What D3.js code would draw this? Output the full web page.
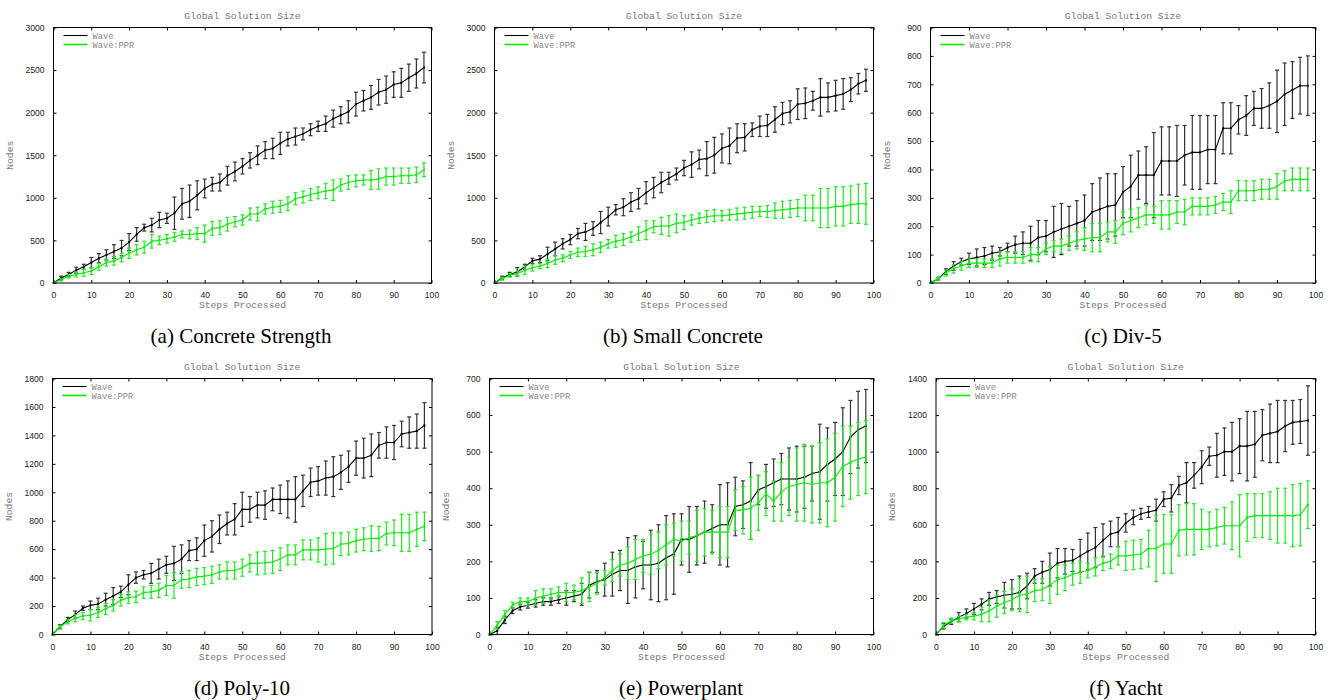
<!DOCTYPE html>
<html><head><meta charset="utf-8">
<script src="https://cdn.jsdelivr.net/npm/d3@7"></script>
<style>
body{margin:0;background:#fff;}
svg{display:block;}
</style></head>
<body>
<svg id="chart" width="1329" height="700"></svg>
<script>
// ---------- DATA ----------
const steps = [0,2,4,6,8,10,12,14,16,18,20,22,24,26,28,30,32,34,36,38,40,42,44,46,48,50,52,54,56,58,60,62,64,66,68,70,72,74,76,78,80,82,84,86,88,90,92,94,96,98];
const xTicks = [0,10,20,30,40,50,60,70,80,90,100];
const seriesNames = ["Wave","Wave:PPR"];
const chartTitle = "Global Solution Size";
const xLabel = "Steps Processed";
const yLabel = "Nodes";
const captions = ["(a) Concrete Strength","(b) Small Concrete","(c) Div-5","(d) Poly-10","(e) Powerplant","(f) Yacht"];

const yTicksA = [0,500,1000,1500,2000,2500,3000];
const yTicksB = [0,500,1000,1500,2000,2500,3000];
const yTicksC = [0,100,200,300,400,500,600,700,800,900];
const yTicksD = [0,200,400,600,800,1000,1200,1400,1600,1800];
const yTicksE = [0,100,200,300,400,500,600,700];
const yTicksF = [0,200,400,600,800,1000,1200,1400];

// (a) Concrete Strength
const waveA    = [0,60,100,150,190,240,290,330,370,410,480,570,650,680,740,760,820,930,960,1030,1110,1160,1180,1260,1310,1370,1440,1500,1560,1580,1640,1690,1720,1750,1800,1840,1870,1930,1970,2010,2100,2140,2180,2240,2270,2330,2350,2410,2460,2530];
const waveAErr = [0,20,25,35,30,60,55,60,80,90,100,80,40,80,90,60,190,180,190,170,110,80,100,110,110,90,90,110,100,120,130,80,100,70,70,60,90,100,100,130,140,120,140,150,160,150,170,160,170,180];
const pprA     = [0,40,80,100,120,140,190,240,260,300,350,390,420,490,500,520,540,570,570,580,580,640,650,690,720,740,810,810,870,890,900,930,990,1010,1040,1060,1080,1090,1150,1180,1200,1210,1210,1220,1250,1250,1260,1260,1270,1330];
const pprAErr  = [0,15,20,30,40,40,40,40,50,50,60,60,70,80,50,50,50,40,50,70,100,80,80,80,60,60,70,80,60,70,70,80,70,70,70,70,90,120,70,80,70,60,110,120,100,100,90,90,90,80];

// (b) Small Concrete
const waveB    = [0,60,100,130,190,260,280,340,400,460,510,580,600,640,710,780,860,890,950,990,1060,1120,1180,1230,1280,1350,1390,1450,1460,1500,1580,1610,1700,1710,1800,1840,1850,1920,1990,2010,2100,2110,2140,2180,2180,2200,2220,2270,2340,2380];
const waveBErr = [0,20,25,50,30,30,40,80,80,60,60,60,100,80,130,110,60,100,110,120,130,120,120,70,70,90,150,110,200,210,170,210,170,160,80,120,130,150,130,130,180,180,110,220,170,180,180,140,120,130];
const pprB     = [0,50,90,110,150,180,200,230,270,290,330,360,370,390,420,460,490,510,540,580,620,660,670,670,700,710,740,760,780,790,790,800,810,820,830,840,840,850,860,870,880,880,880,880,880,900,900,920,930,930];
const pprBErr  = [0,15,20,30,50,40,30,50,50,40,40,50,60,70,60,50,70,70,60,80,110,70,100,120,110,80,60,60,70,70,60,60,70,70,70,60,70,90,100,100,100,150,150,230,230,230,230,220,230,240];

// (c) Div-5
const waveC    = [0,15,40,60,75,85,90,95,105,110,125,135,140,140,160,165,180,190,200,210,220,250,260,270,275,320,340,380,380,380,430,430,430,450,460,460,470,470,545,545,575,590,615,615,625,640,665,680,695,695];
const waveCErr = [0,5,10,15,12,20,30,30,25,15,15,30,40,60,60,55,90,90,70,80,90,100,110,115,110,90,110,85,100,150,120,120,125,105,130,130,120,120,90,90,50,70,60,70,80,110,110,100,100,105];
const pprC     = [0,15,35,50,60,70,70,70,70,85,90,90,90,100,100,120,130,130,140,150,155,160,160,180,180,210,220,230,240,240,240,240,250,250,270,270,270,275,285,285,325,325,325,330,330,340,360,365,365,365];
const pprCErr  = [0,5,10,15,15,15,15,15,15,25,20,20,20,25,25,20,20,25,25,30,40,50,50,35,40,40,40,35,35,30,50,50,40,45,30,30,30,30,30,40,35,35,35,35,35,45,35,40,40,40];

// (d) Poly-10
const waveD    = [0,55,105,140,185,205,215,245,270,300,350,400,420,430,460,490,500,530,590,600,660,690,740,780,810,880,880,910,910,950,950,950,950,1010,1070,1080,1100,1110,1140,1180,1240,1240,1260,1330,1350,1350,1410,1420,1430,1470];
const waveDErr = [0,15,15,25,15,30,40,45,60,40,70,40,30,70,70,60,120,100,70,80,110,110,100,80,110,120,90,90,100,80,100,130,160,110,100,100,120,140,120,110,120,140,150,90,110,120,90,110,120,160];
const pprD     = [0,55,90,115,130,135,155,180,205,240,260,265,295,300,310,345,345,385,390,405,410,420,440,450,450,470,500,500,505,510,530,560,560,595,595,595,600,605,635,640,660,670,675,675,710,715,715,715,740,760];
const pprDErr  = [0,10,15,25,25,40,35,40,40,40,40,40,40,45,50,70,90,60,60,60,60,60,50,60,60,60,60,80,80,80,80,70,70,70,70,85,110,110,80,80,80,80,90,85,80,90,130,130,120,100];

// (e) Powerplant
const waveE    = [0,10,40,65,75,80,85,90,90,95,100,105,110,135,145,150,165,175,175,185,190,190,195,210,220,260,260,270,280,290,300,300,350,355,365,395,405,415,425,425,425,430,440,445,465,480,500,540,560,570];
const waveEErr = [0,10,10,8,8,8,10,10,10,10,20,15,30,35,30,45,60,55,90,85,65,95,105,115,110,70,90,80,85,65,110,115,80,65,105,40,60,65,70,85,90,85,75,130,100,100,120,100,105,100];
const pprE     = [0,25,55,80,90,90,100,105,110,115,115,115,120,130,140,155,175,190,195,205,215,220,230,245,260,255,265,270,280,280,280,280,340,340,345,360,385,365,390,405,410,415,410,415,415,430,460,470,480,485];
const pprEErr  = [0,10,10,8,10,10,20,20,15,15,25,20,35,40,30,20,30,30,45,55,45,55,50,55,45,55,45,70,65,60,70,70,55,65,85,75,60,55,80,80,100,105,105,110,120,120,110,100,100,100];

// (f) Yacht
const waveF    = [0,45,70,95,115,140,165,195,205,215,220,230,265,320,340,355,390,400,405,430,455,475,515,550,560,610,640,660,670,680,740,745,815,830,870,915,975,980,1000,1000,1030,1030,1040,1090,1100,1110,1140,1160,1165,1170];
const waveFErr = [0,15,15,25,25,30,30,35,35,70,80,90,70,40,60,90,80,70,60,90,100,110,90,70,80,50,40,30,30,60,40,75,50,110,70,90,50,120,130,160,150,190,180,140,160,170,140,120,120,190];
const pprF     = [0,50,75,85,95,100,110,130,155,175,190,215,220,240,245,270,300,310,330,340,350,370,390,400,430,430,435,440,470,470,495,495,570,575,575,575,575,585,595,595,595,640,650,650,650,650,650,650,655,710];
const pprFErr  = [0,15,15,15,15,20,40,60,60,60,60,90,100,60,60,100,80,70,60,60,40,50,40,40,50,80,80,80,100,180,160,160,140,140,140,110,95,100,100,130,170,130,120,120,130,150,150,170,170,130];

// ---------- LAYOUT ----------
const panels = [
  {cap:captions[0], ticks:yTicksA, wave:waveA, waveErr:waveAErr, ppr:pprA, pprErr:pprAErr, x0:53.5, x1:431.5, y0:27.5, y1:283, cx:241},
  {cap:captions[1], ticks:yTicksB, wave:waveB, waveErr:waveBErr, ppr:pprB, pprErr:pprBErr, x0:494.5, x1:873.5, y0:27.5, y1:283, cx:683},
  {cap:captions[2], ticks:yTicksC, wave:waveC, waveErr:waveCErr, ppr:pprC, pprErr:pprCErr, x0:930.5, x1:1315.5, y0:27.5, y1:283, cx:1123},
  {cap:captions[3], ticks:yTicksD, wave:waveD, waveErr:waveDErr, ppr:pprD, pprErr:pprDErr, x0:52.5, x1:432, y0:378.5, y1:634.5, cx:242},
  {cap:captions[4], ticks:yTicksE, wave:waveE, waveErr:waveEErr, ppr:pprE, pprErr:pprEErr, x0:489.5, x1:873.5, y0:378.5, y1:634.5, cx:681},
  {cap:captions[5], ticks:yTicksF, wave:waveF, waveErr:waveFErr, ppr:pprF, pprErr:pprFErr, x0:936, x1:1315.5, y0:378.5, y1:634.5, cx:1126}
];
const colors = ["#000000","#00ee00"];
const errColors = ["#333333","#22e822"];
const mono = "'Liberation Mono','DejaVu Sans Mono',monospace";
const sans = "'Liberation Sans',Arial,sans-serif";
const serif = "'Liberation Serif','DejaVu Serif',serif";

const svg = d3.select("#chart");

panels.forEach((p) => {
  const x = d3.scaleLinear().domain([0,100]).range([p.x0,p.x1]);
  const y = d3.scaleLinear().domain([0,p.ticks[p.ticks.length-1]]).range([p.y1,p.y0]);
  const g = svg.append("g");

  const styleAxis = (sel, labels) => {
    sel.select(".domain").remove();
    sel.selectAll(".tick line").attr("stroke","#000").attr("stroke-width",1);
    sel.selectAll(".tick text").attr("fill","#222").style("font-family",sans).style("font-size","8.6px");
    if(!labels) sel.selectAll(".tick text").remove();
  };
  g.append("g").attr("transform",`translate(0,${p.y1})`)
    .call(d3.axisBottom(x).tickValues(xTicks).tickSize(-3).tickPadding(9).tickFormat(d3.format("d")))
    .call(s=>styleAxis(s,true));
  g.append("g").attr("transform",`translate(0,${p.y0})`)
    .call(d3.axisTop(x).tickValues(xTicks).tickSize(-3))
    .call(s=>styleAxis(s,false));
  g.append("g").attr("transform",`translate(${p.x0},0)`)
    .call(d3.axisLeft(y).tickValues(p.ticks).tickSize(-3).tickPadding(9).tickFormat(d3.format("d")))
    .call(s=>styleAxis(s,true));
  g.append("g").attr("transform",`translate(${p.x1},0)`)
    .call(d3.axisRight(y).tickValues(p.ticks).tickSize(-3))
    .call(s=>styleAxis(s,false));

  const sets = [[p.wave,p.waveErr],[p.ppr,p.pprErr]];
  sets.forEach((s,si) => {
    const vals = s[0], errs = s[1];
    const pts = steps.map((st,i)=>({x:st, v:vals[i], e:errs[i]}));
    const eb = g.append("g").attr("stroke",errColors[si]).attr("stroke-width",1.2).attr("fill","none");
    pts.forEach(d => {
      if(!d.e) return;
      const xx = x(d.x), ylo = y(Math.max(0,d.v-d.e)), yhi = y(d.v+d.e);
      eb.append("line").attr("x1",xx).attr("x2",xx).attr("y1",ylo).attr("y2",yhi);
      eb.append("line").attr("x1",xx-2).attr("x2",xx+2).attr("y1",ylo).attr("y2",ylo);
      eb.append("line").attr("x1",xx-2).attr("x2",xx+2).attr("y1",yhi).attr("y2",yhi);
    });
    g.append("path").datum(pts)
      .attr("d", d3.line().x(d=>x(d.x)).y(d=>y(d.v)))
      .attr("fill","none").attr("stroke",colors[si]).attr("stroke-width",1.1);
    g.selectAll(null).data(pts).enter().append("rect")
      .attr("x",d=>x(d.x)-1).attr("y",d=>y(d.v)-1).attr("width",2).attr("height",2)
      .attr("fill",colors[si]);
  });

  g.append("rect").attr("x",p.x0).attr("y",p.y0).attr("width",p.x1-p.x0).attr("height",p.y1-p.y0)
    .attr("fill","none").attr("stroke","#000").attr("stroke-width",1);

  seriesNames.forEach((n,i) => {
    const ly = p.y0 + 8 + i*9;
    g.append("line").attr("x1",p.x0+10).attr("x2",p.x0+34).attr("y1",ly).attr("y2",ly)
      .attr("stroke",colors[i]).attr("stroke-width",i===0?1.1:1.6);
    g.append("text").attr("x",p.x0+39).attr("y",ly+3).text(n)
      .attr("fill","#888").style("font-family",mono).style("font-size","8.7px");
  });

  const mid = (p.x0+p.x1)/2;
  g.append("text").attr("x",mid).attr("y",p.y0-9).attr("text-anchor","middle").text(chartTitle)
    .attr("fill","#777").style("font-family",mono).style("font-size","9.7px");
  g.append("text").attr("x",mid).attr("y",p.y1+25).attr("text-anchor","middle").text(xLabel)
    .attr("fill","#777").style("font-family",mono).style("font-size","9.7px");
  const ny = (p.y0+p.y1)/2;
  const nx = p.x0 - 41;
  g.append("text").attr("transform",`translate(${nx},${ny}) rotate(-90)`).attr("text-anchor","middle").text(yLabel)
    .attr("fill","#777").style("font-family",mono).style("font-size","9.7px");
  g.append("text").attr("x",p.cx).attr("y",p.y1+60).attr("text-anchor","middle").text(p.cap)
    .attr("fill","#000").style("font-family",serif).style("font-size","21px");
});
</script>
</body></html>
